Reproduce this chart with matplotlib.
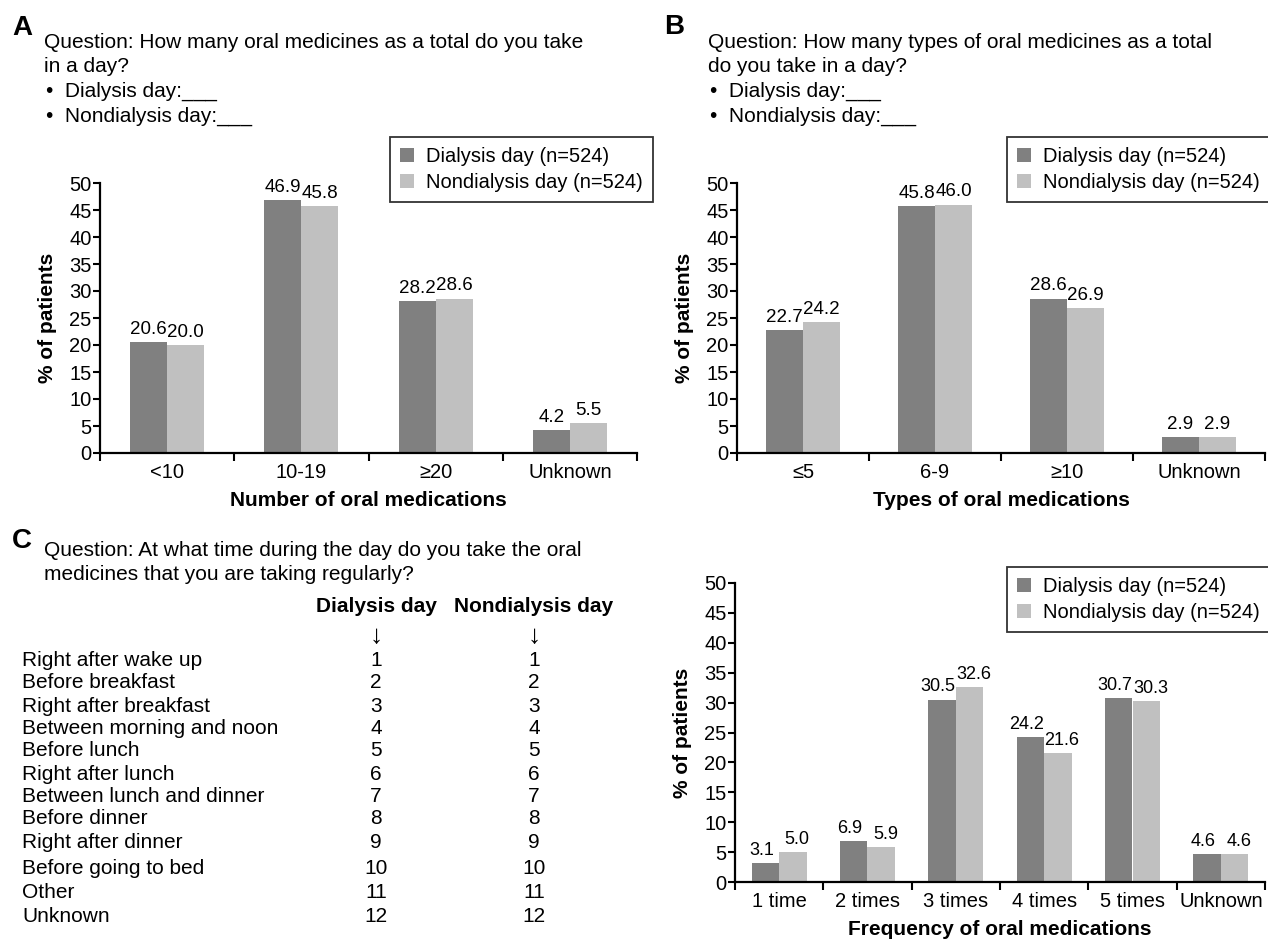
import numpy as np
import matplotlib.pyplot as plt

plt.rcParams['font.family'] = ['Liberation Sans', 'DejaVu Sans']

# datos de los paneles
series = ['Dialysis day (n=524)', 'Nondialysis day (n=524)']
colores = ['#808080', '#c0c0c0']

cat_a = ['<10', '10-19', '≥20', 'Unknown']
dial_a = [20.6, 46.9, 28.2, 4.2]
nodial_a = [20.0, 45.8, 28.6, 5.5]

cat_b = ['≤5', '6-9', '≥10', 'Unknown']
dial_b = [22.7, 45.8, 28.6, 2.9]
nodial_b = [24.2, 46.0, 26.9, 2.9]

cat_c = ['1 time', '2 times', '3 times', '4 times', '5 times', 'Unknown']
dial_c = [3.1, 6.9, 30.5, 24.2, 30.7, 4.6]
nodial_c = [5.0, 5.9, 32.6, 21.6, 30.3, 4.6]

filas_c = ['Right after wake up', 'Before breakfast', 'Right after breakfast',
           'Between morning and noon', 'Before lunch', 'Right after lunch',
           'Between lunch and dinner', 'Before dinner', 'Right after dinner',
           'Before going to bed', 'Other', 'Unknown']
numeros_c = [str(i) for i in range(1, 13)]

W, H = 1268, 942
fig = plt.figure(figsize=(W / 100, H / 100), dpi=100)


def px(x, y):
    return x / W, 1 - y / H


def panel(rect, cats, d1, d2, xlabel, bw, leg_anchor, fs_val, dx):
    ax = fig.add_axes(rect)
    x = np.arange(len(cats))
    ax.bar(x - bw / 2, d1, bw, color=colores[0], label=series[0])
    ax.bar(x + bw / 2, d2, bw, color=colores[1], label=series[1])
    for xi, v1, v2 in zip(x, d1, d2):
        ax.annotate(f'{v1:.1f}', (xi - bw / 2, v1), xytext=(-dx, 3),
                    textcoords='offset points', ha='center', va='bottom', fontsize=fs_val)
        ax.annotate(f'{v2:.1f}', (xi + bw / 2, v2), xytext=(dx, 3),
                    textcoords='offset points', ha='center', va='bottom', fontsize=fs_val)
    ax.set_xlim(-0.5, len(cats) - 0.5)
    ax.set_ylim(0, 50)
    ax.set_yticks(range(0, 51, 5))
    ax.set_xticks(x)
    ax.set_xticklabels(cats, fontsize=14.5)
    ax.set_xticks(np.arange(-0.5, len(cats), 1), minor=True)
    ax.tick_params(axis='x', which='major', length=0, pad=7)
    ax.tick_params(axis='x', which='minor', length=6, width=1.5, direction='out')
    ax.tick_params(axis='y', length=5, width=1.5, labelsize=14.5, pad=1)
    for s in ['top', 'right']:
        ax.spines[s].set_visible(False)
    for s in ['left', 'bottom']:
        ax.spines[s].set_linewidth(1.6)
    ax.set_xlabel(xlabel, fontsize=15, fontweight='bold', labelpad=7)
    ax.set_ylabel('% of patients', fontsize=15, fontweight='bold', labelpad=9)
    leg = ax.legend(loc='upper right', bbox_to_anchor=leg_anchor, fontsize=14.5,
                    frameon=True, fancybox=False, edgecolor='black',
                    handlelength=0.7, handleheight=0.7, handletextpad=0.6,
                    borderpad=0.5, labelspacing=0.35, borderaxespad=0)
    leg.get_frame().set_linewidth(1.3)
    return ax


panel([100 / W, 1 - 453 / H, 537 / W, 270 / H], cat_a, dial_a, nodial_a,
      'Number of oral medications', 0.275, (1.03, 1.17), 13.5, 0)
panel([737 / W, 1 - 453 / H, 528 / W, 270 / H], cat_b, dial_b, nodial_b,
      'Types of oral medications', 0.28, (1.01, 1.17), 13.5, 0)
panel([735 / W, 1 - 882 / H, 530 / W, 299 / H], cat_c, dial_c, nodial_c,
      'Frequency of oral medications', 0.31, (1.01, 1.055), 13, 3)

# letras y preguntas
fig.text(*px(12, 28), 'A', fontsize=20, fontweight='bold', va='center')
fig.text(*px(664, 27), 'B', fontsize=20, fontweight='bold', va='center')
fig.text(*px(12, 541), 'C', fontsize=20, fontweight='bold', va='center')

preg_a = ['Question: How many oral medicines as a total do you take', 'in a day?']
preg_b = ['Question: How many types of oral medicines as a total', 'do you take in a day?']
balas = ['•  Dialysis day:___', '•  Nondialysis day:___']
for x0, preg in [(44, preg_a), (708, preg_b)]:
    for i, t in enumerate(preg):
        fig.text(*px(x0, 42 + 24 * i), t, fontsize=15, va='center')
    for i, t in enumerate(balas):
        fig.text(*px(x0 + 2, 91 + 25 * i), t, fontsize=15, va='center')

preg_c = ['Question: At what time during the day do you take the oral',
          'medicines that you are taking regularly?']
for i, t in enumerate(preg_c):
    fig.text(*px(44, 551 + 24 * i), t, fontsize=15, va='center')

col1, col2 = 376, 534
fig.text(*px(col1, 607), 'Dialysis day', fontsize=15, fontweight='bold', ha='center', va='center')
fig.text(*px(col2, 607), 'Nondialysis day', fontsize=15, fontweight='bold', ha='center', va='center')
fig.text(*px(col1, 636), '↓', fontsize=19, ha='center', va='center')
fig.text(*px(col2, 636), '↓', fontsize=19, ha='center', va='center')

filas_y = [661, 683, 706, 729, 751, 774, 797, 819, 842, 868, 893, 916]
for fila, num, y in zip(filas_c, numeros_c, filas_y):
    fig.text(*px(22, y), fila, fontsize=15, va='center')
    fig.text(*px(col1, y), num, fontsize=15, ha='center', va='center')
    fig.text(*px(col2, y), num, fontsize=15, ha='center', va='center')

plt.savefig('out.png', dpi=100)
plt.close()
